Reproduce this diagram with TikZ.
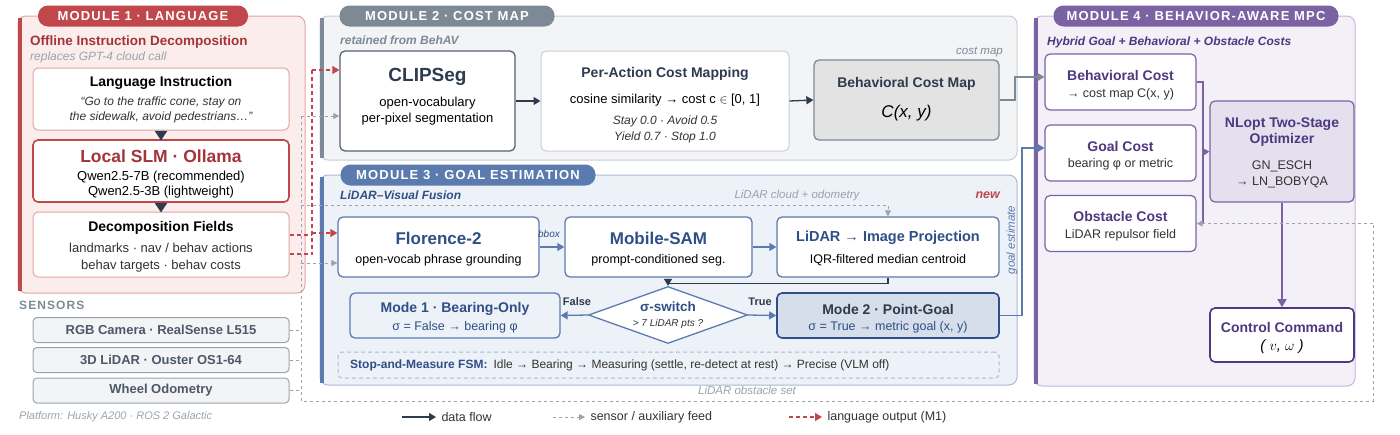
\documentclass[tikz,border=0pt]{standalone}
\usepackage{fontspec}
\setmainfont{Liberation Sans}
\newfontfamily\spaced{Liberation Sans}[LetterSpace=9]
\usetikzlibrary{shapes.geometric,arrows.meta,positioning}
\definecolor{mred}{HTML}{C0474B}\definecolor{dred}{HTML}{A3343A}
\definecolor{redfill}{HTML}{FBEDEC}\definecolor{redline}{HTML}{E2A5A5}
\definecolor{mgray}{HTML}{7D8A96}\definecolor{grayfill}{HTML}{F3F4F6}\definecolor{grayline}{HTML}{C9CFD6}
\definecolor{mblue}{HTML}{5B7BAF}\definecolor{dblue}{HTML}{2F4F86}\definecolor{bluefill}{HTML}{EDF1F8}\definecolor{blueline}{HTML}{A9BAD6}
\definecolor{mpurp}{HTML}{7B62A3}\definecolor{dpurp}{HTML}{4E3880}\definecolor{purpfill}{HTML}{F3F0F8}\definecolor{purpline}{HTML}{C6B8DD}
\definecolor{navy}{HTML}{2E3B4E}\definecolor{txt}{HTML}{333333}\definecolor{lgray}{HTML}{9AA3AD}
\tikzset{
 mod/.style={draw=#1,line width=1pt,rounded corners=8pt},
 pill/.style={fill=#1,rounded corners=10pt,minimum height=21pt,text=white,font=\spaced\bfseries\fontsize{13}{14}\selectfont,inner sep=0pt},
 box/.style={draw=#1,fill=white,line width=1pt,rounded corners=5pt,align=center,inner sep=0pt},
 hd/.style={font=\bfseries\fontsize{14}{16}\selectfont},
 sub/.style={font=\fontsize{12.5}{15}\selectfont},
 data/.style={draw=navy,line width=1.3pt,-{Triangle[length=7pt,width=8pt]}},
 aux/.style={draw=lgray,line width=1pt,dash pattern=on 3pt off 3pt,-{Triangle[length=6pt,width=6pt]}},
 auxl/.style={draw=lgray,line width=1pt,dash pattern=on 3pt off 3pt},
 lang/.style={draw=mred,line width=1.2pt,dash pattern=on 4pt off 3pt,-{Triangle[length=7pt,width=8pt]}},
 langl/.style={draw=mred,line width=1.2pt,dash pattern=on 4pt off 3pt},
 barr/.style={draw=mblue,line width=1.3pt,-{Triangle[length=7pt,width=8pt]}},
}
\begin{document}
\begin{tikzpicture}[x=1pt,y=-1pt]
\useasboundingbox (0,0) rectangle (1400,434);
% module backgrounds
\draw[mod=redline,fill=redfill] (18,16) rectangle (305,293);
\fill[mred] (18,18) rectangle (22,291);
\draw[mod=grayline,fill=grayfill] (320,16) rectangle (1017,160);
\fill[mgray] (320,18) rectangle (324,158);
\draw[mod=blueline,fill=bluefill] (320,175) rectangle (1017,385);
\fill[mblue] (320,177) rectangle (324,383);
\draw[mod=purpline,fill=purpfill] (1034,16) rectangle (1355,386);
\fill[mpurp] (1034,18) rectangle (1038,384);
\node[pill=mred,minimum width=210pt] (p1) at (143,16) {MODULE 1 · LANGUAGE};
\node[pill=mgray,minimum width=215pt] (p2) at (447,16) {MODULE 2 · COST MAP};
\node[pill=mblue,minimum width=255pt] (p3) at (468,175) {MODULE 3 · GOAL ESTIMATION};
\node[pill=mpurp,minimum width=285pt] (p4) at (1196,16) {MODULE 4 · BEHAVIOR-AWARE MPC};
% module 1
\node[anchor=west,text=dred,font=\bfseries\fontsize{13.5}{15}\selectfont,inner sep=0pt] (t1) at (30,42) {Offline Instruction Decomposition};
\node[anchor=west,text=lgray,font=\itshape\fontsize{12}{14}\selectfont,inner sep=0pt] (t1b) at (30,57) {replaces GPT-4 cloud call};
\node[box=redline,minimum width=256pt,minimum height=62pt] (li) at (161,99) {};
\node[hd,text=black] (lit) at (161,83) {Language Instruction};
\node[font=\itshape\fontsize{12}{15}\selectfont,text=txt,align=center] (liq) at (161,110) {“Go to the traffic cone, stay on\\the sidewalk, avoid pedestrians…”};
\node[box=mred,line width=1.6pt,minimum width=256pt,minimum height=62pt] (slm) at (161,171) {};
\node[font=\bfseries\fontsize{17.5}{19}\selectfont,text=dred] (slmt) at (161,156) {Local SLM · Ollama};
\node[font=\fontsize{13}{15}\selectfont,align=center,text=black] (slms) at (161,185) {Qwen2.5-7B (recommended)\\Qwen2.5-3B (lightweight)};
\node[box=redline,minimum width=256pt,minimum height=65pt] (df) at (161,244.5) {};
\node[hd,text=black] (dft) at (161,228) {Decomposition Fields};
\node[font=\fontsize{13}{16.5}\selectfont,align=center,text=txt] (dfs) at (161,257.5) {landmarks · nav / behav actions\\behav targets · behav costs};
\draw[navy,fill=navy] (155,131)--(167,131)--(161,140)--cycle;
\draw[navy,fill=navy] (155,203)--(167,203)--(161,212)--cycle;
% sensors
\node[anchor=west,text=mgray,font=\spaced\bfseries\fontsize{12}{14}\selectfont,inner sep=0pt] (sen) at (19,305) {SENSORS};
\tikzset{sens/.style={draw=lgray,fill=grayfill,line width=1pt,rounded corners=4pt,minimum width=256pt,minimum height=25pt,text=navy!85,font=\bfseries\fontsize{13}{15}\selectfont}}
\node[sens] (rgb) at (161,330) {RGB Camera · RealSense L515};
\node[sens] (lid) at (161,360) {3D LiDAR · Ouster OS1-64};
\node[sens] (odo) at (161,390.5) {Wheel Odometry};
\node[anchor=west,text=lgray,font=\itshape\fontsize{11}{13}\selectfont,inner sep=0pt] (plat) at (19,417) {Platform: Husky A200 · ROS 2 Galactic};
% module 2
\node[anchor=west,text=mgray,font=\bfseries\itshape\fontsize{12}{14}\selectfont,inner sep=0pt] (t2) at (340,40) {retained from BehAV};
\node[box=navy!80,line width=1.3pt,minimum width=175pt,minimum height=100pt] (clip) at (427.5,101) {};
\node[font=\bfseries\fontsize{19}{21}\selectfont,text=navy] (clipt) at (427.5,77) {CLIPSeg};
\node[font=\fontsize{13}{16}\selectfont,align=center,text=black] (clips) at (427.5,111) {open-vocabulary\\per-pixel segmentation};
\node[box=grayline,minimum width=248pt,minimum height=100pt] (pac) at (665,101) {};
\node[hd,text=navy] (pact) at (665,74) {Per-Action Cost Mapping};
\node[font=\fontsize{13}{15}\selectfont,text=black] (pacs) at (665,100) {cosine similarity → cost c $\in$ [0, 1]};
\node[font=\itshape\fontsize{12}{16}\selectfont,text=txt,align=center] (paci) at (665,129) {Stay 0.0 · Avoid 0.5\\Yield 0.7 · Stop 1.0};
\node[box=mgray,fill=gray!22,line width=1.3pt,minimum width=185pt,minimum height=80pt] (bcm) at (906.5,100) {};
\node[hd,text=navy] (bcmt) at (906.5,84) {Behavioral Cost Map};
\node[font=\itshape\fontsize{17}{19}\selectfont,text=black] (bcms) at (906.5,113) {C(x, y)};
\node[anchor=east,text=mgray,font=\itshape\fontsize{11.5}{13}\selectfont,inner sep=0pt] (cml) at (1003,52) {cost map};
\draw[data] (clip.east) -- (pac.west);
\draw[data] (pac.east) -- (bcm.west);
% module 3
\node[anchor=west,text=dblue,font=\bfseries\itshape\fontsize{12}{14}\selectfont,inner sep=0pt] (t3) at (340,195) {LiDAR–Visual Fusion};
\node[anchor=east,text=mred,font=\bfseries\itshape\fontsize{12.5}{14}\selectfont,inner sep=0pt] (new) at (1000,195) {new};
\node[text=lgray,font=\itshape\fontsize{11.5}{13}\selectfont,inner sep=0pt] (lco) at (797,196) {LiDAR cloud + odometry};
\node[box=mblue,line width=1.3pt,minimum width=201pt,minimum height=60pt] (flo) at (438.5,247) {};
\node[font=\bfseries\fontsize{17}{19}\selectfont,text=dblue] (flot) at (438.5,238) {Florence-2};
\node[font=\fontsize{12.5}{15}\selectfont,text=black] (flos) at (438.5,260) {open-vocab phrase grounding};
\node[box=mblue,line width=1.3pt,minimum width=187pt,minimum height=60pt] (sam) at (658.5,247) {};
\node[font=\bfseries\fontsize{17}{19}\selectfont,text=dblue] (samt) at (658.5,238) {Mobile-SAM};
\node[font=\fontsize{12.5}{15}\selectfont,text=black] (sams) at (658.5,260) {prompt-conditioned seg.};
\node[box=mblue,line width=1.3pt,minimum width=222pt,minimum height=60pt] (proj) at (888,247) {};
\node[font=\bfseries\fontsize{14.5}{16}\selectfont,text=dblue] (projt) at (888,238) {LiDAR → Image Projection};
\node[font=\fontsize{12.5}{15}\selectfont,text=black] (projs) at (888,260) {IQR-filtered median centroid};
\node[text=dblue,font=\itshape\fontsize{10}{11}\selectfont,inner sep=0pt] (bbox) at (549,234) {bbox};
\draw[barr] (flo.east) -- (sam.west);
\draw[barr] (sam.east) -- (proj.west);
\node[diamond,draw=mblue,fill=white,line width=1.3pt,minimum width=159pt,minimum height=57pt,inner sep=0pt,aspect=2.8] (sw) at (668,315) {};
\node[font=\bfseries\fontsize{13.5}{15}\selectfont,text=dblue] (swt) at (668,307) {σ-switch};
\node[font=\itshape\fontsize{10}{11}\selectfont,text=txt] (sws) at (668,324) {> 7 LiDAR pts ?};
\draw[draw=navy,line width=1.3pt,-{Triangle[length=7pt,width=8pt]}] (proj.south) -- ++(0,6) -| (sw.north);
\node[box=mblue,fill=bluefill,line width=1.3pt,minimum width=210pt,minimum height=45pt] (m1) at (455,315.5) {};
\node[hd,text=dblue] (m1t) at (455,309) {Mode 1 · Bearing-Only};
\node[font=\fontsize{12.5}{15}\selectfont,text=dblue] (m1s) at (455,327) {σ = False → bearing φ};
\node[box=dblue,fill=mblue!25,line width=1.6pt,minimum width=222pt,minimum height=45pt] (m2) at (888,315.5) {};
\node[hd,text=navy] (m2t) at (888,309) {Mode 2 · Point-Goal};
\node[font=\fontsize{12.5}{15}\selectfont,text=dblue] (m2s) at (888,327) {σ = True → metric goal (x, y)};
\draw[barr] (sw.west) -- (m1.east);
\draw[barr] (sw.east) -- (m2.west);
\node[font=\bfseries\fontsize{11}{12}\selectfont,text=navy] (fl) at (577,302) {False};
\node[font=\bfseries\fontsize{11}{12}\selectfont,text=navy] (tr) at (760,302) {True};
\node[draw=blueline,dash pattern=on 4pt off 3pt,line width=1pt,rounded corners=4pt,fill=bluefill,minimum width=661pt,minimum height=26pt,inner sep=0pt] (fsm) at (668.5,365) {};
\node[anchor=west,font=\fontsize{12}{14}\selectfont,text=txt,inner sep=0pt] (fsmt) at (350,365) {\textcolor{dblue}{\bfseries Stop-and-Measure FSM:}\enspace Idle → Bearing → Measuring (settle, re-detect at rest) → Precise (VLM off)};
\node[rotate=90,text=mblue,font=\itshape\fontsize{11.5}{13}\selectfont] (ge) at (1012,240) {goal estimate};
% module 4
\node[anchor=west,text=dpurp,font=\bfseries\itshape\fontsize{12}{14}\selectfont,inner sep=0pt] (t4) at (1047,42) {Hybrid Goal + Behavioral + Obstacle Costs};
\node[box=mpurp,line width=1.2pt,minimum width=151pt,minimum height=56pt] (bc) at (1120.5,82) {};
\node[hd,text=dpurp] (bct) at (1120.5,75) {Behavioral Cost};
\node[font=\fontsize{12.5}{15}\selectfont,text=txt] (bcs) at (1120.5,94) {→ cost map C(x, y)};
\node[box=mpurp,line width=1.2pt,minimum width=151pt,minimum height=56pt] (gc) at (1120.5,153) {};
\node[hd,text=dpurp] (gct) at (1120.5,146) {Goal Cost};
\node[font=\fontsize{12.5}{15}\selectfont,text=txt] (gcs) at (1120.5,164) {bearing φ or metric};
\node[box=mpurp,line width=1.2pt,minimum width=151pt,minimum height=56pt] (oc) at (1120.5,223.5) {};
\node[hd,text=dpurp] (oct) at (1120.5,216) {Obstacle Cost};
\node[font=\fontsize{12.5}{15}\selectfont,text=txt] (ocs) at (1120.5,235) {LiDAR repulsor field};
\node[box=mpurp,fill=mpurp!20,line width=1.2pt,minimum width=144pt,minimum height=101pt] (nl) at (1282,151.5) {};
\node[hd,text=dpurp,align=center] (nlt) at (1282,132) {NLopt Two-Stage\\Optimizer};
\node[font=\fontsize{12.5}{16}\selectfont,text=txt,align=center] (nls) at (1282,174) {GN\_ESCH\\→ LN\_BOBYQA};
\node[box=dpurp,line width=1.6pt,minimum width=144pt,minimum height=54pt] (cc) at (1282,335) {};
\node[hd,text=dpurp] (cct) at (1282,327) {Control Command};
\node[font=\itshape\fontsize{15}{17}\selectfont,text=black] (ccs) at (1282,347) {( $v$, $\omega$ )};
\draw[mpurp,line width=1.2pt] (bc.east) -- (1203,82) -- (1203,223.5);
\draw[draw=mpurp,line width=1.2pt,-{Triangle[length=7pt,width=8pt]}] (1203,152) -- (nl.west);
\draw[draw=mpurp,line width=1.6pt,-{Triangle[length=8pt,width=9pt]}] (nl.south) -- (cc.north);
% inter-module
\draw[draw=mgray,line width=1.3pt,-{Triangle[length=7pt,width=8pt]}] (bcm.east) -- (1015,100) -- (1015,77) -- (bc.west |- 0,77);
\draw[draw=mblue,line width=1.3pt,-{Triangle[length=7pt,width=8pt]}] (m2.east) -- (1022,315.5) -- (1022,148) -- (gc.west |- 0,148);
% sensor feeds
\coordinate (sx1) at (301,116);
\coordinate (sx2) at (301,401);
\draw[auxl] (sx1) -- (sx2) -- (1373,401) -- (1373,223.5);
\draw[aux] (1373,223.5) -- (oc.east);
\draw[aux] (sx1) -- (clip.west |- 0,116);
\draw[aux] (301,263) -- (flo.west |- 0,263);
\draw[aux] (301,205) -- (888,205) -- (proj.north);
\draw[auxl] (rgb.east) -- (301,330);
\draw[auxl] (lid.east) -- (301,360);
\draw[auxl] (odo.east) -- (301,390.5);
\node[text=lgray,font=\itshape\fontsize{11.5}{13}\selectfont,inner sep=0pt] (los) at (747,390) {LiDAR obstacle set};
% language outputs
\draw[langl] (df.east |- 0,235) -- (312,235);
\draw[langl] (df.east |- 0,254) -- (312,254) -- (312,70);
\draw[lang] (312,70) -- (clip.west |- 0,70);
\draw[lang] (312,233) -- (flo.west |- 0,233);
% legend
\coordinate (l1a) at (402,417); \coordinate (l1b) at (436,417);
\draw[data] (l1a) -- (l1b);
\node[anchor=west,font=\fontsize{12.5}{15}\selectfont,text=txt] (lg1) at (438,417) {data flow};
\coordinate (l2a) at (553,417); \coordinate (l2b) at (585,417);
\draw[aux] (l2a) -- (l2b);
\node[anchor=west,font=\fontsize{12.5}{15}\selectfont,text=txt] (lg2) at (587,417) {sensor / auxiliary feed};
\coordinate (l3a) at (789,417); \coordinate (l3b) at (822,417);
\draw[lang] (l3a) -- (l3b);
\node[anchor=west,font=\fontsize{12.5}{15}\selectfont,text=txt] (lg3) at (824,417) {language output (M1)};
\end{tikzpicture}
\end{document}
